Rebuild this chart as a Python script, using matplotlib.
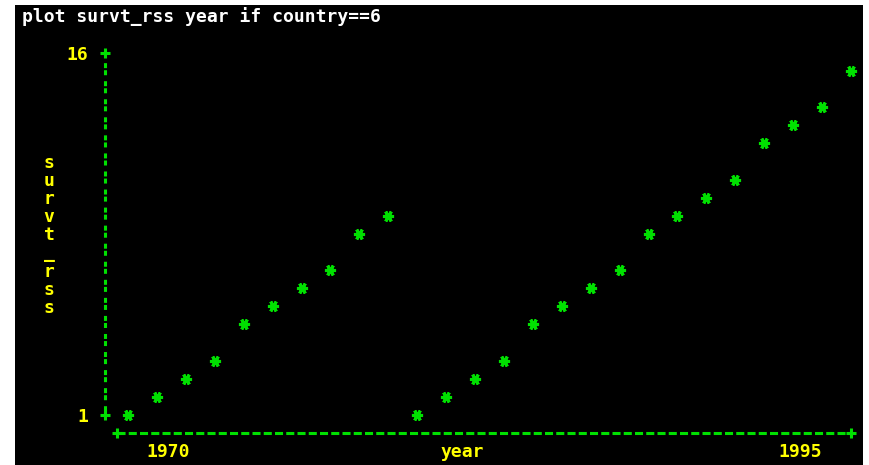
import matplotlib.pyplot as plt

plt.rcParams['lines.scale_dashes'] = False
plt.rcParams['font.family'] = ['DejaVu Sans Mono']
plt.rcParams['font.weight'] = 'bold'

# survt_rss against year, country 6
years = [1970, 1971, 1972, 1973, 1974, 1975, 1976, 1977, 1978, 1979,
         1980, 1981, 1982, 1983, 1984, 1985, 1986, 1987, 1988, 1989,
         1990, 1991, 1992, 1993, 1994, 1995]
survt_rss = [1, 1.75, 2.5, 3.25, 4.75, 5.5, 6.25, 7, 8.5, 9.25,
             1, 1.75, 2.5, 3.25, 4.75, 5.5, 6.25, 7, 8.5, 9.25,
             10, 10.75, 12.25, 13, 13.75, 15.25]
y_ticks = [1, 16]
x_labels = ['1970', '1995']
title = 'plot survt_rss year if country==6'
xlabel = 'year'
ylabel = 'survt_rss'

GREEN = '#00e000'
YELLOW = '#ffff00'
FS = 13
LW = 2.2

W, H = 869, 465
fig = plt.figure(figsize=(W / 100, H / 100), dpi=100)
fig.patch.set_facecolor('white')


def frac(left, top, right, bottom):
    # pixel box (top-left origin) -> figure fraction rect
    return [left / W, 1 - bottom / H, (right - left) / W, (bottom - top) / H]


# black screen
bg = fig.add_axes(frac(15, 5, 863, 465))
bg.set_facecolor('black')
bg.set_xticks([])
bg.set_yticks([])
for s in bg.spines.values():
    s.set_visible(False)

# plotting area: left spine at x=105, bottom spine at y=433
ax = fig.add_axes(frac(105, 53, 851, 433))
ax.patch.set_alpha(0)
x0, x1 = years[0], years[-1]
ppy = (851 - 128) / (x1 - x0)
ppu = (415 - 53) / (y_ticks[1] - y_ticks[0])
xleft = x0 - (128 - 105) / ppy
ybot = y_ticks[0] - (433 - 415) / ppu
xstart = x0 - (128 - 117) / ppy
ax.set_xlim(xleft, x1)
ax.set_ylim(ybot, y_ticks[1])

# dashed axis lines, butt caps so the gaps stay open
ax.spines['top'].set_visible(False)
ax.spines['right'].set_visible(False)
left = ax.spines['left']
left.set_bounds(y_ticks[0], y_ticks[1])
left.set_color(GREEN)
left.set_linewidth(LW)
left.set_capstyle('butt')
left.set_linestyle((2, (3.6, 1.5, 3.6, 4.3)))
bottom = ax.spines['bottom']
bottom.set_bounds(xstart, x1)
bottom.set_color(GREEN)
bottom.set_linewidth(LW)
bottom.set_capstyle('butt')
bottom.set_linestyle((0, (5.8, 2.3)))

# '+' marks at axis ends
ax.plot([xleft, xleft], y_ticks, ls='none', marker='+', ms=7, mew=LW,
        color=GREEN, clip_on=False)
ax.plot([xstart, x1], [ybot, ybot], ls='none', marker='+', ms=7, mew=LW,
        color=GREEN, clip_on=False)

ax.set_yticks(y_ticks)
ax.set_yticklabels([str(v) for v in y_ticks])
ax.tick_params(axis='y', length=0, pad=12, labelcolor=YELLOW, labelsize=FS)
ax.set_xticks([])

# points
ax.plot(years, survt_rss, ls='none', marker=(6, 2, 90), ms=8, mew=2.2,
        color=GREEN, clip_on=False)

# x labels
ax.annotate(x_labels[0], xy=(x0, ybot), xytext=(40, -19), textcoords='offset pixels',
            ha='center', va='center', color=YELLOW, fontsize=FS)
ax.annotate(x_labels[1], xy=(x1, ybot), xytext=(-51, -19), textcoords='offset pixels',
            ha='center', va='center', color=YELLOW, fontsize=FS)
fig.text(462 / W, 1 - 452 / H, xlabel, ha='center', va='center',
         color=YELLOW, fontsize=FS)

# y label, one letter per text row
for i, ch in enumerate(ylabel):
    fig.text(49 / W, 1 - (163 + 18.1 * i) / H, ch, ha='center', va='center',
             color=YELLOW, fontsize=FS)

fig.text(22 / W, 1 - 17 / H, title, ha='left', va='center',
         color='white', fontsize=FS)

fig.savefig('out.png', dpi=100, facecolor=fig.get_facecolor())
